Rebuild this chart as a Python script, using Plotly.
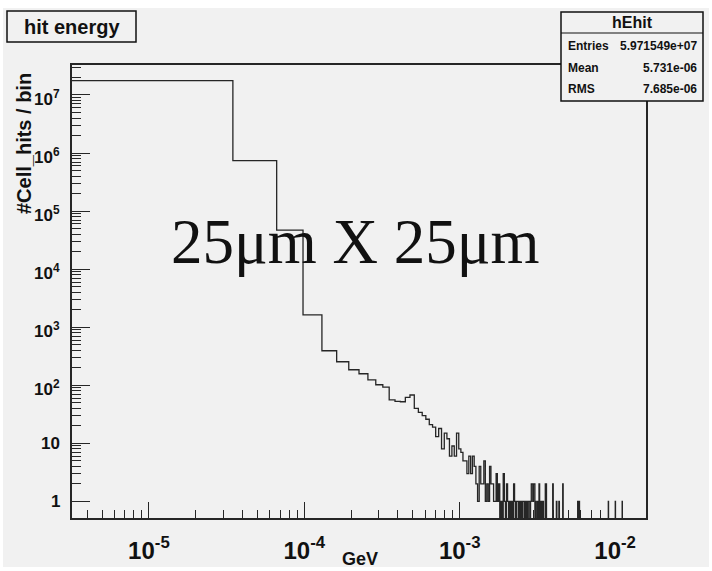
import numpy as np
import plotly.graph_objects as go

# Histogram binning (uniform bins in GeV, shown on a log axis)
bin_lo = 3.0e-6
bin_w = 3.17e-5
n_bins = 498

# Bin contents for the first bins (cell hits per bin)
head_counts = [
    1.76e7, 7.4e5, 4.7e4, 1630, 393, 254, 185, 158, 124, 102,
    93, 56, 53, 52, 62, 68, 40, 34, 30, 26,
    21, 19, 13, 18, 8, 15, 12, 6, 9, 6,
    15, 8, 7, 5, 5, 3, 6, 3, 6, 4,
    2, 1, 4, 2, 2, 5, 1, 2, 1, 4,
    2, 2, 1, 1, 3, 1, 2, 0, 1, 0,
    3, 1, 0, 2, 1, 0, 1, 0, 1, 0,
    2, 1, 0, 1, 1, 0, 1, 0, 1, 0,
    1, 1, 0, 1, 0, 1, 0, 1, 1, 0,
    1, 2, 2, 1, 2, 2, 0, 1, 0, 0,
    1, 0, 2, 0, 0, 1,
]
# Sparse high-energy tail: bin index and content
tail_bins = [108, 112, 113, 125, 132, 137, 145, 181, 183, 185, 285, 316, 350]
tail_counts = [1, 2, 2, 2, 1, 1, 2, 1, 1, 1, 1, 1, 1]

# Axis tick labels
x_major = [1e-5, 1e-4, 1e-3, 1e-2]
x_major_text = ["10<sup>-5</sup>", "10<sup>-4</sup>", "10<sup>-3</sup>", "10<sup>-2</sup>"]
y_major = [1, 10, 1e2, 1e3, 1e4, 1e5, 1e6, 1e7]
y_major_text = ["1", "10", "10<sup>2</sup>", "10<sup>3</sup>", "10<sup>4</sup>",
                "10<sup>5</sup>", "10<sup>6</sup>", "10<sup>7</sup>"]

# Statistics box entries
stats_name = "hEhit"
stats_labels = ["Entries", "Mean", "RMS"]
stats_values = ["5.971549e+07", "5.731e-06", "7.685e-06"]

# ---- build the step outline ----
counts = np.zeros(n_bins)
counts[:len(head_counts)] = head_counts
counts[tail_bins] = tail_counts
edges = bin_lo + bin_w * np.arange(n_bins + 1)
# empty bins fall below the visible log range, like ROOT's outline
floor = 1e-3
yplot = np.where(counts > 0, counts, floor)
xs = edges
ys = np.append(yplot, yplot[-1])

# plot area in pixels
W, H = 712, 571
L, R, T, B = 72, 646, 65, 518


def px(x):
    return (x - L) / (R - L)


def py(y):
    return (B - y) / (B - T)


BG = "#f1f1f1"
INK = "#262626"
FONT = "Liberation Sans, Arial, sans-serif"

fig = go.Figure()
fig.add_trace(go.Scatter(
    x=xs, y=ys, mode="lines", line=dict(shape="hv", color=INK, width=1.3),
    hoverinfo="skip", showlegend=False,
))


def minor_vals(lo_exp, hi_exp):
    out = []
    for e in range(lo_exp, hi_exp + 1):
        for m in range(2, 10):
            out.append(m * 10.0 ** e)
    return out


fig.update_xaxes(
    type="log", range=[np.log10(3.2e-6), np.log10(0.0158)],
    automargin=False,
    showgrid=False, zeroline=False,
    showline=True, mirror=True, linecolor=INK, linewidth=1.5,
    ticks="inside", ticklen=16, tickwidth=1.3, tickcolor=INK,
    tickvals=x_major, ticktext=["<b>%s</b>" % t for t in x_major_text],
    tickfont=dict(family=FONT, size=24, color="#111"),
    ticklabelstandoff=10,
    minor=dict(tickvals=minor_vals(-6, -2), ticks="inside", ticklen=8,
               tickwidth=1.1, tickcolor=INK, showgrid=False),
)
fig.update_yaxes(
    type="log", range=[-0.286, 7.516],
    automargin=False,
    showgrid=False, zeroline=False,
    showline=True, mirror=True, linecolor=INK, linewidth=1.5,
    ticks="inside", ticklen=18, tickwidth=1.3, tickcolor=INK,
    tickvals=y_major, showticklabels=False,
    minor=dict(tickvals=minor_vals(0, 7), ticks="inside", ticklen=9,
               tickwidth=1.1, tickcolor=INK, showgrid=False),
)

shapes = []
# canvas
shapes.append(dict(type="rect", xref="paper", yref="paper", layer="below",
                   x0=px(3), x1=px(709), y0=py(567), y1=py(8),
                   fillcolor=BG, line=dict(width=0)))
# title box
shapes.append(dict(type="rect", xref="paper", yref="paper", layer="above",
                   x0=px(7), x1=px(136), y0=py(42), y1=py(11),
                   fillcolor=BG, line=dict(color="#111", width=1.5)))
# statistics box
shapes.append(dict(type="rect", xref="paper", yref="paper", layer="above",
                   x0=px(561), x1=px(703), y0=py(101), y1=py(12),
                   fillcolor=BG, line=dict(color="#111", width=1.5)))
shapes.append(dict(type="line", xref="paper", yref="paper", layer="above",
                   x0=px(561), x1=px(703), y0=py(33), y1=py(33),
                   line=dict(color="#111", width=1.2)))

annotations = []
# y tick labels, right-aligned left of the axis
for v, t in zip(y_major, y_major_text):
    annotations.append(dict(xref="paper", yref="y", x=px(62), y=np.log10(v),
                            text="<b>%s</b>" % t, showarrow=False,
                            xanchor="right", yanchor="middle",
                            yshift=-3 if "sup" in t else 0,
                            font=dict(family=FONT, size=17, color="#111")))
annotations.append(dict(xref="paper", yref="paper", x=px(72), y=py(27),
                        text="<b>hit energy</b>", showarrow=False,
                        xanchor="center", yanchor="middle",
                        font=dict(family=FONT, size=20, color="#111")))
annotations.append(dict(xref="paper", yref="paper", x=px(632), y=py(23),
                        text="<b>%s</b>" % stats_name, showarrow=False,
                        xanchor="center", yanchor="middle",
                        font=dict(family=FONT, size=16, color="#111")))
row_y = [46, 68, 89]
for lab, val, yy in zip(stats_labels, stats_values, row_y):
    annotations.append(dict(xref="paper", yref="paper", x=px(566), y=py(yy),
                            text="<b>%s</b>" % lab, showarrow=False,
                            xanchor="left", yanchor="middle",
                            font=dict(family=FONT, size=12, color="#111")))
    annotations.append(dict(xref="paper", yref="paper", x=px(699), y=py(yy),
                            text="<b>%s</b>" % val, showarrow=False,
                            xanchor="right", yanchor="middle",
                            font=dict(family=FONT, size=12, color="#111")))
# axis titles
annotations.append(dict(xref="paper", yref="paper", x=px(24), y=py(143),
                        text="<b>#Cell_hits / bin</b>", showarrow=False,
                        textangle=-90, xanchor="center", yanchor="middle",
                        font=dict(family=FONT, size=20, color="#111")))
annotations.append(dict(xref="paper", yref="paper", x=px(340), y=py(559),
                        text="<b>GeV</b>", showarrow=False,
                        xanchor="left", yanchor="middle",
                        font=dict(family=FONT, size=18, color="#111")))
# pixel size label
annotations.append(dict(xref="paper", yref="paper", x=px(355), y=py(242),
                        text="25μm X 25μm", showarrow=False,
                        xanchor="center", yanchor="middle",
                        font=dict(family="Liberation Serif, Times New Roman, serif",
                                  size=63, color="#111")))

fig.update_layout(
    width=W, height=H,
    margin=dict(l=L, r=W - R, t=T, b=H - B, pad=0, autoexpand=False),
    paper_bgcolor="white", plot_bgcolor=BG,
    shapes=shapes, annotations=annotations,
    showlegend=False,
)

fig.write_html("out.html")
